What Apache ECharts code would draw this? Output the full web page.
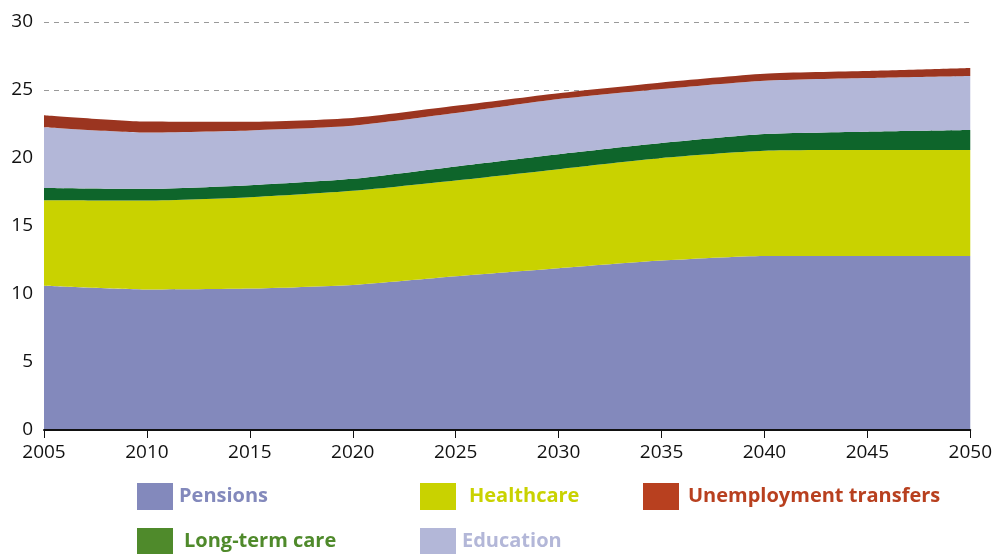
<!DOCTYPE html>
<html>
<head>
<meta charset="utf-8">
<script src="https://cdn.jsdelivr.net/npm/echarts@6/dist/echarts.min.js"></script>
<style>html,body{margin:0;padding:0;background:#fff}#c{width:995px;height:554px}</style>
</head>
<body>
<div id="c"></div>
<script>
const years = ['2005','2010','2015','2020','2025','2030','2035','2040','2045','2050'];
const pensions      = [10.6, 10.33, 10.4, 10.67, 11.31, 11.9, 12.46, 12.8, 12.8, 12.8];
const healthcare    = [6.3, 6.55, 6.72, 6.92, 7.04, 7.28, 7.54, 7.73, 7.78, 7.78];
const longTermCare  = [0.9, 0.85, 0.88, 0.88, 1.03, 1.1, 1.1, 1.23, 1.35, 1.47];
const education     = [4.47, 4.15, 4.03, 3.9, 3.92, 4.05, 3.97, 3.92, 3.95, 3.98];
const unemployment  = [0.88, 0.8, 0.63, 0.57, 0.54, 0.44, 0.49, 0.52, 0.51, 0.58];

const chart = echarts.init(document.getElementById('c'));
const font = 'Open Sans';
function area(name, data, color) {
  return {
    name, type: 'line', stack: 'total', data, smooth: 0.2,
    showSymbol: false, symbol: 'none',
    lineStyle: { width: 0 },
    areaStyle: { color, opacity: 1 },
    itemStyle: { color },
    emphasis: { disabled: true }
  };
}
function leg(name, left, top, color, gap) {
  return {
    left, top, padding: 0, itemWidth: 36, itemHeight: 27, icon: 'rect',
    selectedMode: false,
    data: [{ name, itemStyle: { color }, textStyle: { color } }],
    textStyle: { fontFamily: font, fontWeight: 'bold', fontSize: 20, padding: [0, 0, 0, gap] }
  };
}
chart.setOption({
  animation: false,
  grid: { left: 44, right: 22, top: 22, bottom: 124, containLabel: false },
  xAxis: {
    type: 'category', data: years, boundaryGap: false,
    axisLine: { lineStyle: { color: '#111', width: 2 } },
    axisTick: { show: true, length: 8, lineStyle: { color: '#111', width: 1 } },
    axisLabel: { color: '#111', fontFamily: font, fontSize: 19, margin: 13 },
    splitLine: { show: false },
    z: 10
  },
  yAxis: {
    type: 'value', min: 0, max: 30, interval: 5,
    axisLine: { show: false }, axisTick: { show: false },
    axisLabel: { color: '#111', fontFamily: font, fontSize: 19, margin: 11 },
    splitLine: { lineStyle: { color: '#999', type: [5, 5], width: 1 } }
  },
  legend: [
    leg('Pensions', 137, 483, '#8389bc', 1),
    leg('Healthcare', 420, 483, '#c9d200', 8),
    leg('Unemployment transfers', 643, 483, '#b8401f', 4),
    leg('Long-term care', 137, 528, '#4f8a2b', 6),
    leg('Education', 420, 528, '#b3b7d8', 1)
  ],
  series: [
    area('Pensions', pensions, '#8389bc'),
    area('Healthcare', healthcare, '#c9d200'),
    area('Long-term care', longTermCare, '#0e652b'),
    area('Education', education, '#b3b7d8'),
    area('Unemployment transfers', unemployment, '#9b3520')
  ]
});
</script>
</body>
</html>
